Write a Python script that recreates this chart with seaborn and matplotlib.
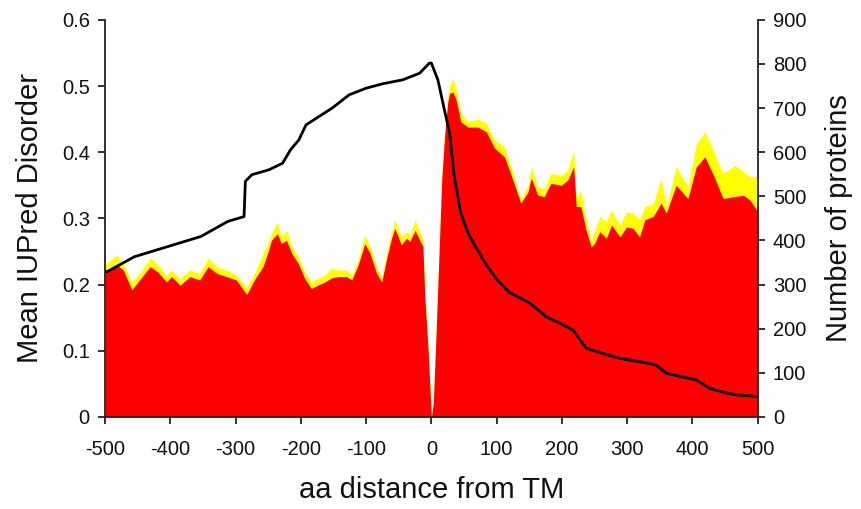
import matplotlib
matplotlib.use("Agg")
import matplotlib.pyplot as plt
import pandas as pd
import seaborn as sns

# --------------------------------------------
# DATA
# --------------------------------------------
# position relative to TM segment, mean IUPred disorder (red) and its upper band (yellow)
dist_aa = [
    -500, -498, -482, -472, -459, -447, -431, -419, -406, -398, -385, -370,
    -355, -342, -329, -314, -299, -283, -270, -258, -250, -245, -236, -230,
    -222, -214, -204, -194, -184, -174, -163, -153, -143, -130, -122, -112,
    -102, -94, -84, -76, -69, -61, -56, -46, -38, -33, -25, -18, -13, -10,
    -5, 0, 3, 7, 10, 13, 16, 20, 25, 28, 33, 38, 45, 56, 71, 84, 97, 112,
    122, 137, 148, 153, 163, 173, 183, 199, 209, 218, 222, 229, 237, 245,
    250, 258, 268, 276, 289, 299, 309, 319, 327, 340, 352, 360, 375, 393,
    406, 419, 432, 447, 465, 478, 488, 498, 500,
]
mean_disorder = [
    0.219, 0.219, 0.230, 0.222, 0.192, 0.207, 0.227, 0.219, 0.204, 0.212,
    0.199, 0.212, 0.207, 0.227, 0.217, 0.212, 0.207, 0.185, 0.209, 0.227,
    0.250, 0.267, 0.277, 0.262, 0.267, 0.247, 0.232, 0.209, 0.194, 0.199,
    0.204, 0.210, 0.212, 0.212, 0.207, 0.230, 0.262, 0.247, 0.217, 0.204,
    0.237, 0.270, 0.285, 0.260, 0.270, 0.265, 0.282, 0.267, 0.258, 0.180,
    0.100, 0.000, 0.020, 0.120, 0.200, 0.280, 0.360, 0.420, 0.475, 0.489,
    0.491, 0.479, 0.446, 0.438, 0.438, 0.431, 0.406, 0.393, 0.366, 0.323,
    0.340, 0.361, 0.335, 0.333, 0.353, 0.350, 0.358, 0.378, 0.318, 0.318,
    0.282, 0.257, 0.262, 0.280, 0.270, 0.290, 0.272, 0.287, 0.285, 0.272,
    0.298, 0.303, 0.323, 0.308, 0.350, 0.330, 0.378, 0.393, 0.366, 0.330,
    0.333, 0.335, 0.328, 0.313, 0.313,
]
upper_disorder = [
    0.232, 0.232, 0.245, 0.232, 0.204, 0.217, 0.240, 0.230, 0.214, 0.222,
    0.209, 0.222, 0.217, 0.240, 0.227, 0.222, 0.215, 0.195, 0.219, 0.247,
    0.265, 0.277, 0.295, 0.272, 0.282, 0.258, 0.242, 0.219, 0.204, 0.209,
    0.214, 0.225, 0.222, 0.222, 0.215, 0.238, 0.275, 0.257, 0.227, 0.210,
    0.247, 0.280, 0.298, 0.272, 0.280, 0.275, 0.298, 0.280, 0.268, 0.190,
    0.105, 0.000, 0.025, 0.125, 0.205, 0.285, 0.365, 0.430, 0.485, 0.500,
    0.512, 0.494, 0.459, 0.446, 0.450, 0.444, 0.418, 0.408, 0.378, 0.330,
    0.350, 0.378, 0.348, 0.345, 0.368, 0.365, 0.373, 0.403, 0.330, 0.343,
    0.298, 0.267, 0.280, 0.303, 0.295, 0.313, 0.290, 0.310, 0.308, 0.298,
    0.318, 0.322, 0.361, 0.318, 0.378, 0.348, 0.413, 0.431, 0.403, 0.368,
    0.380, 0.371, 0.363, 0.363, 0.355,
]

# number of proteins contributing at each position (right axis)
count_dist = [
    -500, -497, -455, -404, -353, -312, -287, -285, -275, -249, -228, -216,
    -203, -192, -172, -152, -126, -100, -75, -44, -18, -3, 0, 10, 20, 28,
    35, 45, 56, 64, 84, 100, 120, 151, 176, 200, 217, 230, 237, 260, 288,
    320, 344, 360, 380, 406, 426, 450, 467, 500,
]
n_proteins = [
    330, 329, 363, 386, 409, 443, 454, 534, 549, 560, 575, 605, 628, 662,
    681, 700, 730, 745, 755, 764, 779, 802, 802, 764, 696, 643, 545, 462,
    417, 395, 345, 312, 282, 258, 227, 210, 197, 170, 156, 145, 133, 125,
    118, 99, 92, 84, 65, 55, 50, 46,
]


def main():
    sns.set_style("ticks")
    plt.rcParams["font.family"] = ["Liberation Sans", "DejaVu Sans"]
    plt.rcParams["axes.unicode_minus"] = False
    plt.rcParams["text.color"] = "#111111"
    plt.rcParams["axes.labelcolor"] = "#111111"

    dis = pd.DataFrame(
        {"dist": dist_aa, "mean": mean_disorder, "upper": upper_disorder}
    )
    cnt = pd.DataFrame({"dist": count_dist, "n": n_proteins})

    fig, ax = plt.subplots(figsize=(8.61, 5.09), dpi=100)
    fig.subplots_adjust(left=0.122, right=0.880, bottom=0.181, top=0.961)

    ax.fill_between(dis["dist"], 0, dis["upper"], color="#FFFF00", lw=0)
    ax.fill_between(dis["dist"], 0, dis["mean"], color="#FF0000", lw=0)
    ax.set_xlim(-500, 500)
    ax.set_ylim(0, 0.6)
    ax.set_xticks(range(-500, 501, 100))
    ax.set_yticks([0, 0.1, 0.2, 0.3, 0.4, 0.5, 0.6])
    ax.set_yticklabels(["0", "0.1", "0.2", "0.3", "0.4", "0.5", "0.6"])
    ax.set_xlabel("aa distance from TM", fontsize=21, labelpad=12)
    ax.set_ylabel("Mean IUPred Disorder", fontsize=21, labelpad=13)

    ax2 = ax.twinx()
    sns.lineplot(data=cnt, x="dist", y="n", ax=ax2, color="black", lw=2)
    ax2.set_ylim(0, 900)
    ax2.set_yticks(range(0, 901, 100))
    ax2.set_ylabel("Number of proteins", fontsize=21, labelpad=13)
    ax2.set_xlabel("")

    for a in (ax, ax2):
        a.spines["top"].set_visible(False)
        for s in ("left", "right", "bottom"):
            a.spines[s].set_linewidth(1.3)
            a.spines[s].set_color("#222222")
        a.tick_params(labelsize=14.5, length=5, width=1.3, color="#222222",
                      labelcolor="#111111", pad=6)
    ax.tick_params(axis="x", pad=12)
    ax.spines["right"].set_visible(False)
    ax2.spines["left"].set_visible(False)
    ax2.spines["bottom"].set_visible(False)

    plt.savefig("out.png", dpi=100)
    plt.close()


if __name__ == "__main__":
    main()
